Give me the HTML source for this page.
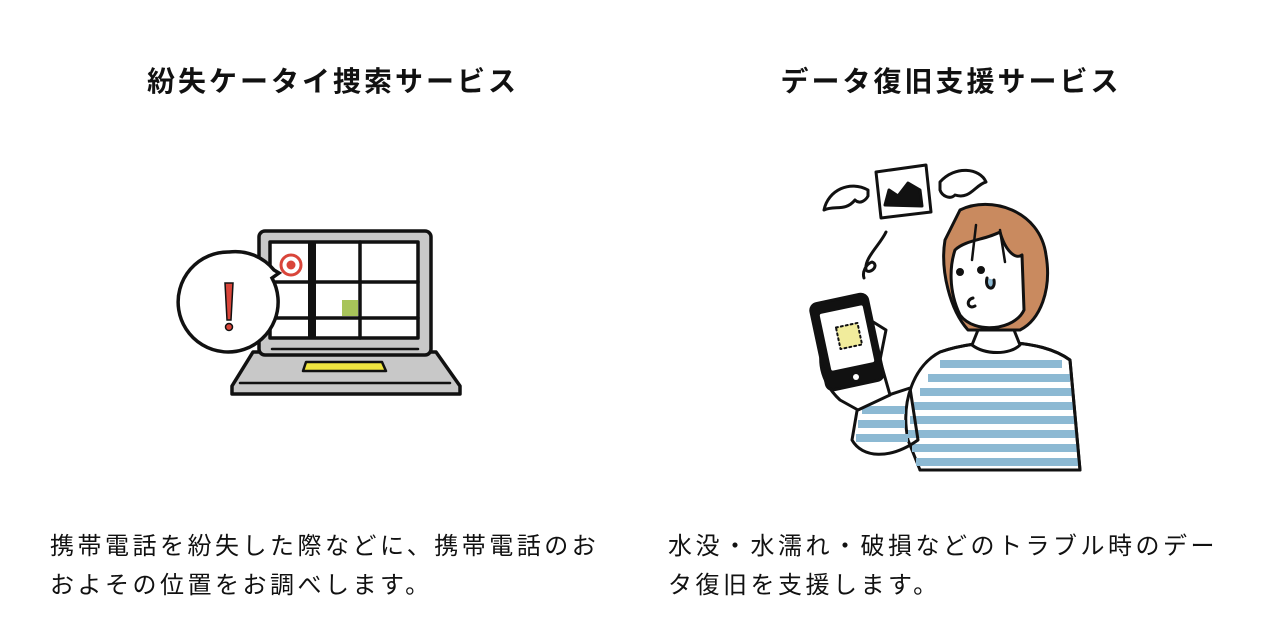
<!DOCTYPE html>
<html><head><meta charset="utf-8"><style>
html,body{margin:0;padding:0;background:#fff;width:1280px;height:633px;overflow:hidden;position:relative;font-family:"Liberation Sans","Noto Sans CJK JP",sans-serif;color:#111}
.t{position:absolute;top:63px;font-size:28px;font-weight:bold;text-align:center;width:600px;letter-spacing:3px;line-height:38px}
.b{position:absolute;top:527px;font-size:24px;line-height:39px;letter-spacing:3.5px;white-space:nowrap}
svg{position:absolute;left:0;top:0}
</style></head><body>
<div class="t" style="left:33px">紛失ケータイ捜索サービス</div>
<div class="t" style="left:651px">データ復旧支援サービス</div>
<div class="b" style="left:50px">携帯電話を紛失した際などに、携帯電話のお<br>およその位置をお調べします。</div>
<div class="b" style="left:668px">水没・水濡れ・破損などのトラブル時のデー<br>タ復旧を支援します。</div>
<svg width="1280" height="633" viewBox="0 0 1280 633">
<g stroke="#111" stroke-width="3.5" stroke-linejoin="round" stroke-linecap="round">
<path d="M253,352 L436,352 L460,386 L460,394 L232,394 L232,386 Z" fill="#c8c8c8"/>
<rect x="259" y="231" width="172" height="124" rx="6" fill="#c8c8c8"/>
<rect x="270" y="242" width="148" height="96" fill="#fff"/>
<line x1="270" y1="282" x2="418" y2="282"/><line x1="270" y1="318" x2="418" y2="318"/>
<line x1="360" y1="242" x2="360" y2="338"/>
<line x1="312" y1="242" x2="312" y2="338" stroke-width="8" stroke-linecap="butt"/>
<line x1="272" y1="349" x2="418" y2="349" stroke-width="2.5"/>
<line x1="240" y1="383" x2="450" y2="383" stroke-width="2.5"/>
<path d="M306,362 L382,362 L386,371 L303,371 Z" fill="#f0e640" stroke-width="2.5"/>
</g>
<rect x="342" y="300" width="16" height="16" fill="#a8c45a"/>
<circle cx="291" cy="265" r="10" fill="none" stroke="#d9453a" stroke-width="3"/>
<circle cx="291" cy="265" r="4.5" fill="#d9453a"/>
<path d="M229,252 A50,50 0 1 0 272,278 L279,273 L274,270 A50,50 0 0 0 229,252 Z" fill="#fff" stroke="#111" stroke-width="3.5"/>
<path d="M225,283 L233,283 L231,320 L227,320 Z" fill="#d9453a" stroke="#111" stroke-width="1.5"/>
<circle cx="229" cy="327" r="3.5" fill="#d9453a" stroke="#111" stroke-width="1.5"/>
<g stroke="#111" stroke-width="3" stroke-linejoin="round" stroke-linecap="round">
<path d="M876,172 L926,165 L931,212 L881,218 Z" fill="#fff"/>
<path d="M885,205 L889,190 L898,196 L908,183 L920,190 L922,206 Z" fill="#111"/>
<path d="M868,190 C850,180 828,190 824,210 C835,205 845,212 855,200 C860,205 866,200 868,196 Z" fill="#fff"/>
<path d="M940,182 C955,165 980,168 986,182 C975,185 970,200 955,195 C950,200 942,196 940,190 Z" fill="#fff"/>
<path d="M886,232 C880,245 864,258 866,270 C870,275 880,265 872,262 C866,264 862,272 864,278" fill="none"/>
<path d="M940,352 C980,338 1040,338 1070,360 L1080,470 L920,470 L908,440 C900,400 915,365 940,352 Z" fill="#fff"/>
<g stroke="#8cb9d3" stroke-width="8" stroke-linecap="butt">
<line x1="940" y1="364" x2="1062" y2="364"/><line x1="928" y1="378" x2="1070" y2="378"/><line x1="920" y1="392" x2="1073" y2="392"/><line x1="914" y1="406" x2="1074" y2="406"/><line x1="910" y1="420" x2="1076" y2="420"/><line x1="908" y1="434" x2="1078" y2="434"/><line x1="912" y1="448" x2="1078" y2="448"/><line x1="916" y1="462" x2="1079" y2="462"/><line x1="856" y1="438" x2="908" y2="438"/><line x1="858" y1="424" x2="905" y2="424"/><line x1="862" y1="410" x2="905" y2="410"/>
</g>
<path d="M940,352 C980,338 1040,338 1070,360 L1080,470 L920,470" fill="none"/>
<path d="M858,405 L910,388 L918,440 C890,460 862,458 852,440 Z" fill="none"/>
<path d="M972,345 C985,355 1010,355 1020,345 L1014,330 L978,330 Z" fill="#fff"/>
<path d="M960,210 C990,195 1040,210 1046,255 C1052,290 1040,320 1020,330 L968,330 C950,310 940,270 945,240 Z" fill="#c98a5f"/>
<path d="M955,250 C965,240 985,240 1000,232 C1005,250 1015,260 1022,255 L1024,310 C1015,330 975,335 960,315 C948,290 950,265 955,250 Z" fill="#fff"/>
<path d="M976,225 L972,260 M1000,230 L1005,262" fill="none" stroke-width="2.5"/>
<circle cx="960" cy="272" r="2.5" fill="#111"/><circle cx="981" cy="270" r="2.5" fill="#111"/>
<path d="M987,278 C984,290 996,292 994,280" fill="#8cb9d3"/>
<path d="M973,298 C965,300 968,310 975,306" fill="none"/>
<path d="M830,335 C815,350 818,380 840,400 L858,410 L890,395 L880,360 L886,330 L870,320 Z" fill="#fff"/>
<rect x="818" y="298" width="58" height="88" rx="7" transform="rotate(-12 847 342)" fill="#111"/>
<rect x="825" y="309" width="44" height="58" rx="2" transform="rotate(-12 847 338)" fill="#fff" stroke="none"/>
<rect x="838" y="325" width="22" height="22" transform="rotate(-12 849 336)" fill="#f1ec9c" stroke="#111" stroke-width="2" stroke-dasharray="2 3"/>
<circle cx="856" cy="377" r="3" fill="#fff" stroke="none"/>
</g>
</svg>
</body></html>
